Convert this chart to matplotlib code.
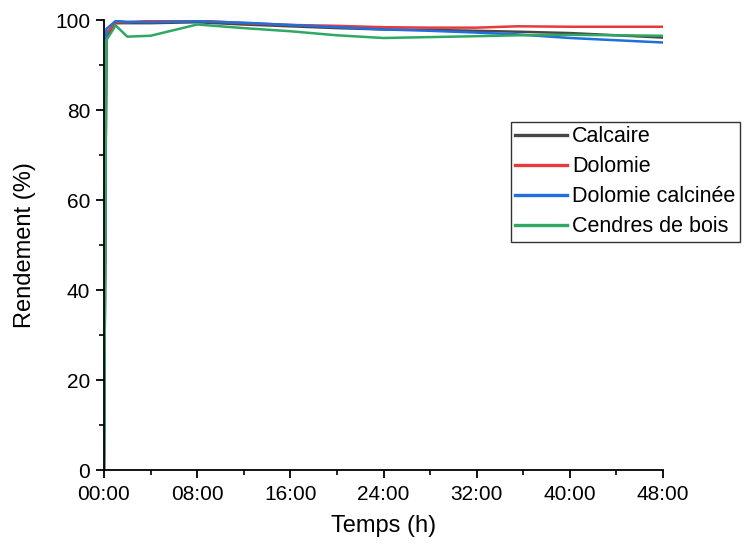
import matplotlib
matplotlib.use("Agg")
import matplotlib.pyplot as plt
from matplotlib.ticker import MultipleLocator, FuncFormatter

plt.rcParams['font.family'] = ['Liberation Sans', 'DejaVu Sans']

# Time (hours) and yield (%) for each additive
hours = [0, 0.2, 1, 2, 4, 8, 12, 16, 20, 24, 28, 32, 35.5, 40, 44, 48]
calcaire = [0, 96.0, 99.3, 99.3, 99.3, 99.5, 99.0, 98.6, 98.2, 97.9, 97.8, 97.6, 97.4, 97.1, 96.6, 96.1]
dolomie = [0, 97.0, 99.5, 99.5, 99.8, 99.9, 99.3, 98.9, 98.7, 98.4, 98.3, 98.3, 98.6, 98.5, 98.5, 98.5]
dolomie_calcinee = [0, 98.0, 99.8, 99.6, 99.5, 99.7, 99.4, 98.9, 98.4, 97.9, 97.6, 97.2, 96.8, 96.0, 95.5, 95.0]
cendres_bois = [0, 95.5, 98.8, 96.3, 96.5, 99.0, 98.2, 97.5, 96.6, 96.0, 96.2, 96.4, 96.6, 96.7, 96.6, 96.5]

series = [
    ("Calcaire", calcaire, "#474747"),
    ("Dolomie", dolomie, "#e8393c"),
    ("Dolomie calcinée", dolomie_calcinee, "#1f6fdc"),
    ("Cendres de bois", cendres_bois, "#2ea862"),
]

fig = plt.figure(figsize=(7.56, 5.46), dpi=100)
ax = fig.add_axes([104 / 756, 1 - 470 / 546, (663 - 104) / 756, (470 - 20) / 546])

for name, vals, color in series:
    ax.plot(hours, vals, color=color, lw=1.8, label=name)

ax.set_xlim(0, 48)
ax.set_ylim(0, 100)
ax.xaxis.set_major_locator(MultipleLocator(8))
ax.xaxis.set_minor_locator(MultipleLocator(4))
ax.yaxis.set_major_locator(MultipleLocator(20))
ax.yaxis.set_minor_locator(MultipleLocator(10))
ax.xaxis.set_major_formatter(FuncFormatter(lambda v, p: f"{int(v):02d}:00"))

for s in ("top", "right"):
    ax.spines[s].set_visible(False)
for s in ("left", "bottom"):
    ax.spines[s].set_linewidth(1.3)
ax.tick_params(which="major", direction="out", length=6, width=1.3, labelsize=15)
ax.tick_params(axis="x", which="major", pad=5)
ax.tick_params(axis="y", which="major", pad=4)
ax.tick_params(which="minor", direction="out", length=3.5, width=1.2)

ax.set_xlabel("Temps (h)", fontsize=17, labelpad=8)
ax.set_ylabel("Rendement (%)", fontsize=17, labelpad=14)

leg = ax.legend(loc="upper left", bbox_to_anchor=(511 / 756, 1 - 122 / 546),
                bbox_transform=fig.transFigure, fontsize=15.5, frameon=True,
                fancybox=False, edgecolor="black", handlelength=2.4,
                handletextpad=0.25, borderpad=0.2, labelspacing=0.42,
                borderaxespad=0)
leg.get_frame().set_linewidth(1.0)
for line in leg.get_lines():
    line.set_linewidth(2.4)

fig.savefig("out.png", dpi=100)
